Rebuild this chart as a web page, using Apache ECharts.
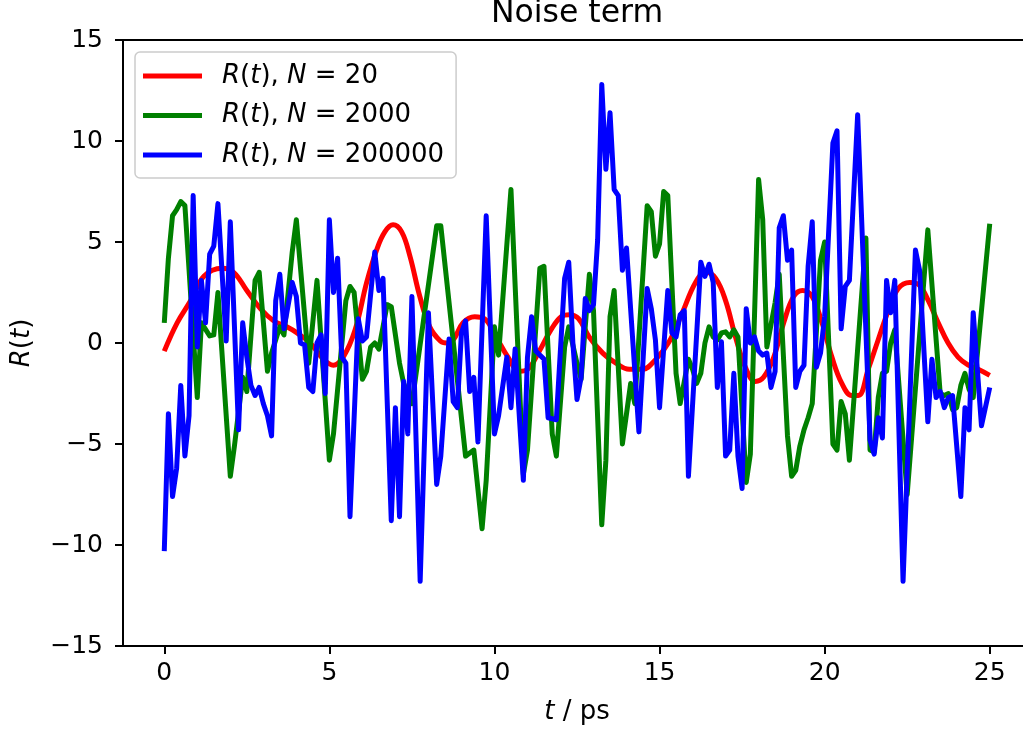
<!DOCTYPE html>
<html>
<head>
<meta charset="utf-8">
<script src="https://cdn.jsdelivr.net/npm/echarts@6/dist/echarts.min.js"></script>
<style>
  html, body { margin: 0; padding: 0; background: #fff; }
  #main { width: 1023px; height: 731px; }
</style>
</head>
<body>
<div id="main"></div>
<script>
// tick values
const xTicks = [0, 5, 10, 15, 20, 25];
const yTicks = [-15, -10, -5, 0, 5, 10, 15];

// R(t), N = 20  (smooth)
const redPts = [
  [0,-0.4],[0.39,1.0],[0.8,2.1],[1.2,3.3],[1.75,3.7],[2.1,3.5],[2.5,2.6],[2.91,1.7],[3.31,1.1],[3.71,0.8],
  [4.02,0.5],[4.42,0.0],[4.82,-0.8],[5.12,-1.1],[5.42,-0.7],[5.78,0.65],[6.13,3.0],[6.43,4.6],[6.68,5.5],[6.93,5.85],
  [7.19,5.5],[7.44,4.3],[7.74,2.3],[8.04,0.8],[8.36,0.1],[8.55,0.0],[8.75,0.15],[9.05,1.0],[9.4,1.3],[9.7,1.2],
  [10.05,0.3],[10.41,-0.7],[10.76,-1.4],[11.01,-1.3],[11.36,-0.4],[11.71,0.65],[12.02,1.3],[12.27,1.4],[12.55,1.2],[12.87,0.3],
  [13.28,-0.5],[13.68,-1.0],[14.08,-1.3],[14.48,-1.3],[14.89,-0.8],[15.29,0.06],[15.69,1.5],[16.09,3.0],[16.4,3.5],[16.7,3.2],
  [17.0,2.1],[17.3,0.3],[17.6,-1.2],[17.9,-1.9],[18.15,-1.7],[18.46,-0.7],[18.76,1.0],[19.06,2.3],[19.33,2.6],[19.62,2.3],
  [19.92,1.0],[20.22,-0.7],[20.52,-2.0],[20.82,-2.6],[21.02,-2.6],[21.32,-1.3],[21.62,0.15],[21.93,1.6],[22.23,2.7],[22.58,3.0],
  [22.84,2.9],[23.14,2.1],[23.44,1.0],[23.74,0.0],[24.04,-0.7],[24.35,-1.1],[24.65,-1.3],[25.0,-1.6]
];

// R(t), N = 2000
const greenPts = [
  [0,1.0],[0.125,4.2],[0.25,6.3],[0.375,6.6],[0.5,7.0],[0.625,6.8],[1.0,-2.7],[1.125,1.0],[1.375,0.35],[1.5,0.4],
  [1.625,2.5],[2.0,-6.6],[2.125,-5.1],[2.375,-1.7],[2.5,-2.4],[2.75,3.1],[2.875,3.5],[3.125,-1.4],[3.25,-0.5],[3.5,0.8],
  [3.625,0.4],[3.875,4.5],[4.0,6.1],[4.375,-1.0],[4.625,3.1],[5.0,-5.8],[5.125,-4.5],[5.5,2.1],[5.625,2.8],[5.75,2.5],
  [6.0,-1.8],[6.125,-1.4],[6.25,-0.2],[6.375,0.0],[6.5,-0.3],[6.75,1.9],[6.875,1.8],[7.125,-1.0],[7.25,-2.0],[7.5,-3.0],
  [8.25,5.8],[8.375,5.8],[9.125,-5.6],[9.375,-5.3],[9.625,-9.2],[9.75,-6.8],[10.0,0.8],[10.125,-0.6],[10.5,7.6],[10.875,-6.5],
  [11.0,-5.3],[11.375,3.7],[11.5,3.8],[11.75,-4.5],[11.875,-5.6],[12.125,-0.2],[12.25,0.8],[12.5,-1.0],[12.625,-1.8],[12.875,3.4],
  [13.0,1.6],[13.25,-9.0],[13.375,-5.8],[13.5,1.3],[13.625,2.6],[13.875,-5.0],[14.0,-3.5],[14.125,-2.0],[14.25,-3.0],[14.625,6.8],
  [14.75,6.5],[14.875,4.3],[15.0,4.9],[15.125,7.5],[15.25,7.3],[15.5,-1.5],[15.625,-3.0],[15.875,-0.8],[16.0,-1.3],[16.125,-2.0],
  [16.25,-1.5],[16.375,0.0],[16.5,0.8],[16.625,0.3],[16.75,0.15],[16.875,0.5],[17.0,0.55],[17.125,0.3],[17.25,0.65],[17.375,0.3],
  [17.625,-6.9],[17.75,-5.5],[18.0,8.1],[18.125,6.1],[18.25,-0.2],[18.5,2.0],[18.625,3.4],[18.875,-4.6],[19.0,-6.6],[19.125,-6.3],
  [19.25,-5.1],[19.375,-4.3],[19.5,-3.7],[19.625,-3.0],[19.875,4.1],[20.0,5.0],[20.25,-5.0],[20.375,-5.3],[20.5,-2.9],[20.625,-3.5],
  [20.75,-5.8],[21.25,5.2],[21.375,-5.3],[21.5,-5.4],[21.625,-2.7],[21.75,-1.5],[21.875,-1.4],[22.0,0.0],[22.125,0.65],[22.5,-7.5],
  [23.125,5.6],[23.5,-2.5],[23.625,-2.6],[23.75,-2.5],[23.875,-3.3],[24.0,-3.2],[24.125,-2.1],[24.25,-1.5],[24.375,-2.3],[24.5,-2.7],
  [25.0,5.9]
];

// R(t), N = 200000
const bluePts = [
  [0,-10.3],[0.125,-3.5],[0.25,-7.6],[0.375,-6.2],[0.5,-2.1],[0.625,-5.6],[0.75,-3.6],[0.875,7.3],[1.0,-0.2],[1.125,3.1],
  [1.25,1.0],[1.375,4.4],[1.5,4.8],[1.625,6.9],[1.875,0.1],[2.0,6.0],[2.25,-4.3],[2.375,1.0],[2.5,-0.7],[2.625,-2.1],
  [2.75,-2.6],[2.875,-2.2],[3.0,-3.0],[3.125,-3.6],[3.25,-4.6],[3.375,2.1],[3.5,3.4],[3.625,0.7],[3.875,3.0],[4.0,2.3],
  [4.125,0.0],[4.25,-0.1],[4.375,-2.2],[4.5,-2.4],[4.625,0.0],[4.75,0.4],[4.875,-2.5],[5.0,6.1],[5.125,2.5],[5.25,4.2],
  [5.375,-0.7],[5.5,-1.0],[5.625,-8.6],[5.875,1.2],[6.0,0.1],[6.125,0.3],[6.375,4.5],[6.5,2.6],[6.625,3.2],[6.875,-8.8],
  [7.0,-3.2],[7.125,-8.6],[7.25,-1.9],[7.375,-4.5],[7.5,2.3],[7.75,-11.8],[8.0,1.5],[8.25,-7.0],[8.375,-5.6],[8.625,0.2],
  [8.75,-2.9],[8.875,-3.2],[9.0,0.5],[9.125,1.1],[9.25,-2.4],[9.375,-1.7],[9.5,-4.9],[9.75,6.3],[10.0,-4.5],[10.125,-3.6],
  [10.375,-0.7],[10.5,-3.2],[10.625,-0.3],[10.875,-6.8],[11.0,-0.7],[11.125,1.3],[11.25,-0.4],[11.5,-0.8],[11.625,-3.7],[11.875,-3.8],
  [12.125,3.2],[12.25,4.0],[12.375,0.0],[12.5,-2.8],[12.625,-1.7],[12.75,2.2],[12.875,1.6],[13.0,1.9],[13.125,5.1],[13.25,12.8],
  [13.375,8.6],[13.5,11.4],[13.625,7.6],[13.75,7.3],[13.875,3.6],[14.0,4.7],[14.375,-4.4],[14.625,2.7],[14.75,1.7],[14.875,0.15],
  [15.0,-3.2],[15.25,2.6],[15.375,0.5],[15.5,0.3],[15.625,1.4],[15.75,1.6],[15.875,-6.6],[16.25,4.0],[16.375,3.3],[16.5,3.9],
  [16.625,3.0],[16.75,-2.2],[16.875,0.06],[17.0,-5.6],[17.125,-5.3],[17.25,-1.5],[17.375,-5.6],[17.5,-7.2],[17.625,1.7],[17.75,0.0],
  [17.875,0.3],[18.0,-0.4],[18.125,-0.6],[18.25,-0.5],[18.375,-2.2],[18.5,-1.4],[18.625,5.7],[18.75,6.3],[18.875,4.1],[19.0,4.6],
  [19.125,-2.2],[19.25,-1.4],[19.375,-1.1],[19.5,3.8],[19.625,6.0],[19.75,-1.2],[19.875,-0.5],[20.0,1.3],[20.25,9.9],[20.375,10.5],
  [20.5,0.7],[20.625,2.8],[20.75,3.1],[21.0,11.3],[21.375,-4.8],[21.5,-5.5],[21.625,-3.7],[21.75,-4.7],[21.875,3.1],[22.0,1.5],
  [22.125,3.1],[22.375,-11.8],[22.75,4.6],[22.875,3.6],[23.125,-3.9],[23.25,-0.8],[23.375,-2.7],[23.5,-2.4],[23.625,-3.2],[23.75,-2.7],
  [23.875,-2.6],[24.125,-7.6],[24.25,-3.2],[24.375,-4.3],[24.5,1.5],[24.75,-4.1],[25.0,-2.2]
];

const legendLabels = {
  n20: '{i|R}({i|t}), {i|N} = 20',
  n2000: '{i|R}({i|t}), {i|N} = 2000',
  n200000: '{i|R}({i|t}), {i|N} = 200000'
};

const FONT = 'DejaVu Sans';

function minus(v) {
  return v < 0 ? '\u2212' + (-v) : String(v);
}

const myChart = echarts.init(document.getElementById('main'));

const option = {
  animation: false,
  backgroundColor: '#fff',
  grid: {
    left: 123, top: 40, width: 908, height: 606,
    outerBoundsMode: 'none', containLabel: false,
    show: true, borderColor: '#000', borderWidth: 2, backgroundColor: 'transparent'
  },
  xAxis: {
    type: 'value', min: -1.25, max: 26.25,
    splitLine: { show: false },
    axisLine: { show: false, onZero: false },
    axisTick: { customValues: xTicks, length: 8, lineStyle: { color: '#000', width: 2 } },
    axisLabel: { customValues: xTicks, margin: 15, fontSize: 25, fontFamily: FONT, color: '#000', formatter: minus }
  },
  yAxis: {
    type: 'value', min: -15, max: 15, interval: 5,
    splitLine: { show: false },
    axisLine: { show: false, onZero: false },
    axisTick: { length: 8, lineStyle: { color: '#000', width: 2 } },
    axisLabel: { margin: 20, fontSize: 25, fontFamily: FONT, color: '#000', formatter: minus }
  },
  legend: {
    orient: 'vertical', left: 135, top: 52,
    data: ['n20', 'n2000', 'n200000'],
    icon: 'rect', itemWidth: 59, itemHeight: 5, itemGap: 9.5,
    padding: [9, 12, 8, 8],
    backgroundColor: 'rgba(255,255,255,0.8)',
    borderColor: '#cccccc', borderWidth: 1.5, borderRadius: 5,
    formatter: function (name) { return legendLabels[name]; },
    textStyle: {
      fontSize: 26, fontFamily: FONT, color: '#000', lineHeight: 30, padding: [0, 0, 0, 15],
      rich: { i: { fontStyle: 'italic', fontFamily: FONT, fontSize: 26, color: '#000' } }
    }
  },
  graphic: [
    { type: 'text', x: 577, y: 14,
      style: { text: 'Noise term', fontSize: 31.5, fontFamily: FONT, fill: '#000', align: 'center', verticalAlign: 'middle' } },
    { type: 'text', x: 577, y: 712,
      style: { text: '{i|t} / ps', fontSize: 26, fontFamily: FONT, fill: '#000', align: 'center', verticalAlign: 'middle',
        rich: { i: { fontStyle: 'italic', fontSize: 26, fontFamily: FONT, fill: '#000' } } } },
    { type: 'text', x: 22, y: 343, rotation: Math.PI / 2,
      style: { text: '{i|R}({i|t})', fontSize: 26, fontFamily: FONT, fill: '#000', align: 'center', verticalAlign: 'middle',
        rich: { i: { fontStyle: 'italic', fontSize: 26, fontFamily: FONT, fill: '#000' } } } }
  ],
  series: [
    { name: 'n20', type: 'line', data: redPts, smooth: 0.4, showSymbol: false, symbol: 'none',
      itemStyle: { color: '#ff0000' }, lineStyle: { color: '#ff0000', width: 5 } },
    { name: 'n2000', type: 'line', data: greenPts, showSymbol: false, symbol: 'none',
      itemStyle: { color: '#008000' }, lineStyle: { color: '#008000', width: 5, join: 'round' } },
    { name: 'n200000', type: 'line', data: bluePts, showSymbol: false, symbol: 'none',
      itemStyle: { color: '#0000ff' }, lineStyle: { color: '#0000ff', width: 5, join: 'round' } }
  ]
};

myChart.setOption(option);
</script>
</body>
</html>
